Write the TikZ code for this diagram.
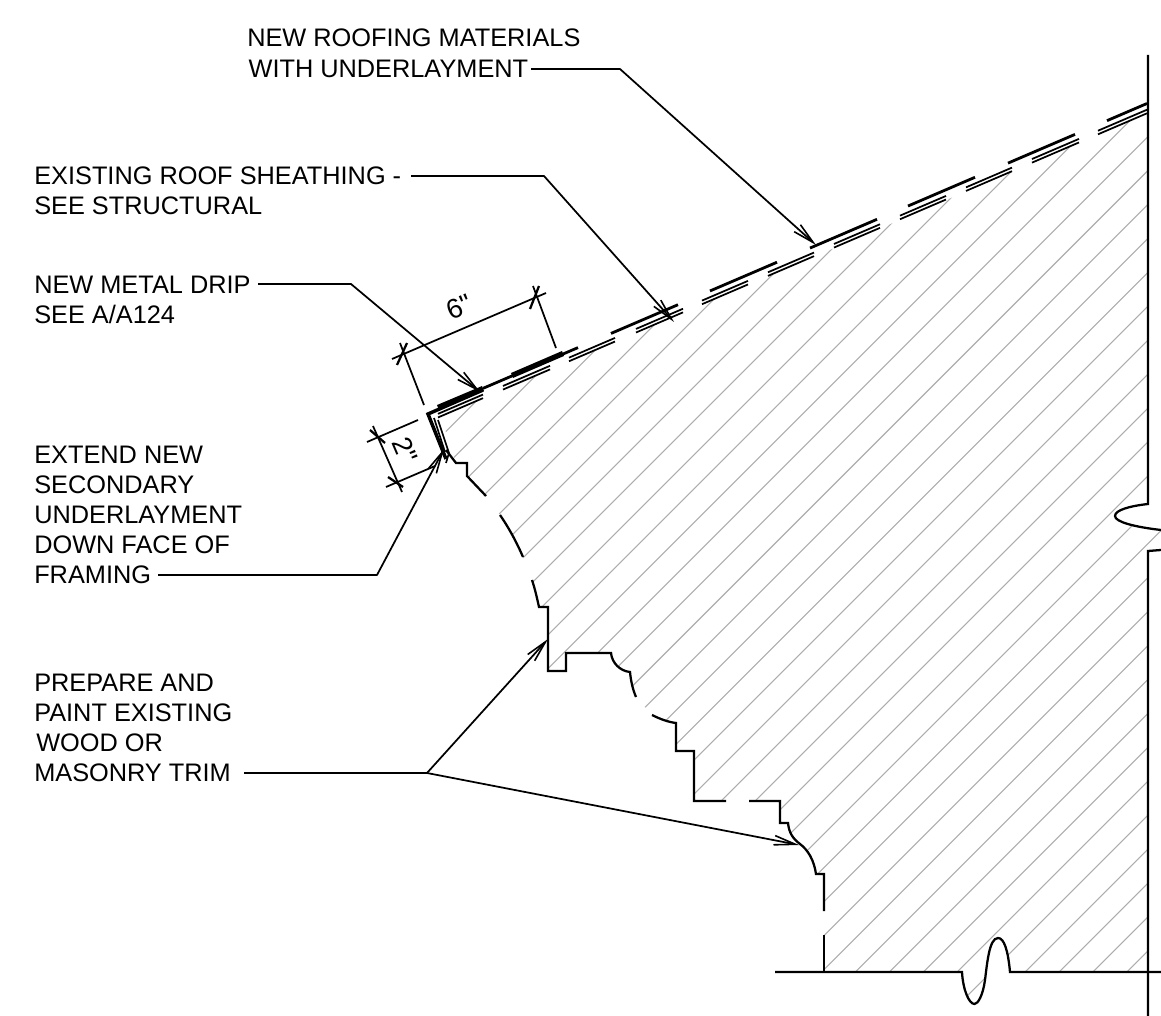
\documentclass[tikz,border=0pt]{standalone}
\usepackage{fontspec}
\setmainfont{Liberation Sans}
\newfontfamily\dimfont{Liberation Sans}
\usetikzlibrary{arrows.meta}
\tikzset{
  px/.style={x=0.75pt,y=-0.75pt},
  lbl/.style={inner sep=0pt,anchor=north west,align=left,font=\fontsize{19}{22.5}\selectfont},
  dimtxt/.style={inner sep=0pt,font=\dimfont\fontsize{20.5}{22.5}\selectfont},
  leader/.style={line width=1.3pt,line join=round},
  tipped/.style={leader,-{Straight Barb[length=16pt,width=7pt,line width=1.2pt]}},
  profile/.style={line width=1.7pt,line join=miter,line cap=butt},
  hatchline/.style={line width=0.8pt,color=hatchgray},
  roofline/.style={line width=2.1pt},
  sheath/.style={line width=1.3pt},
  flash/.style={line width=4pt,line join=miter},
  dimline/.style={line width=1.3pt},
  dimtick/.style={line width=1.7pt},
}
\definecolor{hatchgray}{gray}{0.68}
\begin{document}
\begin{tikzpicture}[px]
\path[use as bounding box,fill=white] (0,0) rectangle (1161,1016);

% hatching
\begin{scope}
\clip (441,417) -- (1148,113.5) -- (1148,504)
  .. controls (1130,506) and (1115,510) .. (1115,516)
  .. controls (1115,522) and (1135,527) .. (1161,530)
  -- (1161,550) -- (1148,551) -- (1148,972) -- (1010,972)
  .. controls (1008,950) and (1004,938) .. (998,938)
  .. controls (989,938) and (987,965) .. (985,980)
  .. controls (983,995) and (978,1004) .. (974.5,1004)
  .. controls (969,1004) and (963,990) .. (962,972)
  -- (824,972) -- (824,874) -- (816,874)
  .. controls (814,860) and (808,850) .. (800,844)
  .. controls (792,838) and (789,832) .. (788,823)
  -- (780,823) -- (780,801) -- (694,801) -- (694,751) -- (676,751) -- (676,723)
  .. controls (668,722) and (660,719) .. (652,715)
  -- (636,697) .. controls (633,690) and (631,682) .. (630,672)
  .. controls (620,671) and (612,663) .. (611,653)
  -- (566,653) -- (566,671) -- (548,671) -- (548,607) -- (539,607)
  .. controls (537,598) and (535,589) .. (532,580)
  -- (523,557) .. controls (517,543) and (509,528) .. (500,515)
  -- (486,496) -- (467,476) -- (467,463) -- (456,463) -- cycle;
\foreach \k in {-31,...,7}{
  \pgfmathsetmacro{\c}{1895.3+33.93*\k}
  \draw[hatchline] ({\c-1100},1100) -- ({\c},0);
}
\end{scope}

% roofing, broken top line
\foreach \a/\b in {483/578,611/678,710/777,810/877,908/975,1008/1075,1107/1147}
  \draw[roofline] (\a,{103.5+(1147-\a)*0.429}) -- (\b,{103.5+(1147-\b)*0.429});
% sheathing, broken double line
\foreach \a/\b in {438/483,503/550,569/615,636/683,702/748,768/814,834/880,900/946,966/1012,1032/1079,1098/1147}{
  \draw[sheath] (\a,{109.7+(1147-\a)*0.429}) -- (\b,{109.7+(1147-\b)*0.429});
  \draw[sheath] (\a,{113.3+(1147-\a)*0.429}) -- (\b,{113.3+(1147-\b)*0.429});
}

% metal drip flashing
\draw[line width=2.6pt,line join=miter] (483,390) -- (428,414) -- (446,459);
\draw[flash] (438,407.5) -- (483,388.5);
\draw[flash] (512,375.5) -- (563,353.5);
\draw[line width=1.25pt] (438,420) -- (449,453) -- (446,463);
\draw[line width=1.25pt] (434,418) -- (445,452);

% wall and ground
\draw[profile] (1148,55) -- (1148,504)
  .. controls (1130,506) and (1115,510) .. (1115,516)
  .. controls (1115,522) and (1135,527) .. (1161,530);
\draw[profile] (1161,550) -- (1148,551) -- (1148,1016);
\draw[profile] (775,972) -- (962,972)
  .. controls (963,990) and (969,1004) .. (974.5,1004)
  .. controls (978,1004) and (983,995) .. (985,980)
  .. controls (987,965) and (989,938) .. (998,938)
  .. controls (1004,938) and (1008,950) .. (1010,972)
  -- (1161,972);

% trim profile
\draw[profile] (446,450) -- (456,463) -- (467,463) -- (467,476) -- (486,496);
\draw[profile] (500,515) .. controls (509,528) and (517,543) .. (523,557);
\draw[profile] (532,580) .. controls (535,589) and (537,598) .. (539,607)
  -- (548,607) -- (548,671) -- (566,671) -- (566,653) -- (611,653)
  .. controls (612,663) and (620,671) .. (630,672)
  .. controls (631,682) and (633,690) .. (636,697);
\draw[profile] (652,715) .. controls (660,719) and (668,722) .. (676,723)
  -- (676,751) -- (694,751) -- (694,801) -- (726,801);
\draw[profile] (749,801) -- (780,801) -- (780,823) -- (788,823)
  .. controls (789,832) and (792,838) .. (800,844)
  .. controls (808,850) and (814,860) .. (816,874)
  -- (824,874) -- (824,911);
\draw[profile] (824,935) -- (824,972);

% labels
\node[lbl,font=\fontsize{19}{23.25}\selectfont] (roofing) at (247,29) {NEW ROOFING MATERIALS\\\hspace*{1pt}WITH UNDERLAYMENT};
\node[lbl] (sheathing) at (34,167) {EXISTING ROOF SHEATHING -\\SEE STRUCTURAL};
\node[lbl] (drip) at (34,276) {NEW METAL DRIP\\SEE A/A124};
\node[lbl] (extend) at (34,446) {EXTEND NEW\\SECONDARY\\UNDERLAYMENT\\DOWN FACE OF\\FRAMING};
\node[lbl] (prepare) at (34,674) {PREPARE AND\\PAINT EXISTING\\\hspace*{1.5pt}WOOD OR\\MASONRY TRIM};

% leader anchors
\coordinate (roofS) at (531,69);   \coordinate (roofE) at (620,69);   \coordinate (roofT) at (816,245);
\coordinate (shS) at (411,176);    \coordinate (shE) at (544,176);    \coordinate (shT) at (674,322);
\coordinate (drS) at (258,284);    \coordinate (drE) at (351,284);    \coordinate (drT) at (480,392);
\coordinate (exS) at (158,575);    \coordinate (exE) at (377,575);    \coordinate (exT) at (444,449);
\coordinate (prS) at (244,773);    \coordinate (prE) at (427,773);
\coordinate (prT1) at (548,639);   \coordinate (prT2) at (799,845);

\draw[tipped] (roofS) -- (roofE) -- (roofT);
\draw[tipped] (shS) -- (shE) -- (shT);
\draw[tipped] (drS) -- (drE) -- (drT);
\draw[tipped] (exS) -- (exE) -- (exT);
\draw[leader] (prS) -- (prE);
\draw[tipped] (prE) -- (prT1);
\draw[tipped] (prE) -- (prT2);

% 6 inch dimension
\draw[dimline] (400,343) -- (424,405);
\draw[dimline] (533,286) -- (556,348);
\draw[dimline] (392,359) -- (546,293);
\draw[dimtick] (397,365) -- (407,343);
\draw[dimtick] (530,309) -- (539,286);
\node[dimtxt,rotate=23] (six) at (459,307) {6"};

% 2 inch dimension
\draw[dimline] (418,420) -- (367,442);
\draw[dimline] (435,466) -- (386,487);
\draw[dimline] (373,426) -- (402,492);
\draw[dimtick] (370,430) -- (385,443);
\draw[dimtick] (388,477) -- (403,487);
\node[dimtxt,rotate=-67] (two) at (405,450) {2"};
\end{tikzpicture}
\end{document}
